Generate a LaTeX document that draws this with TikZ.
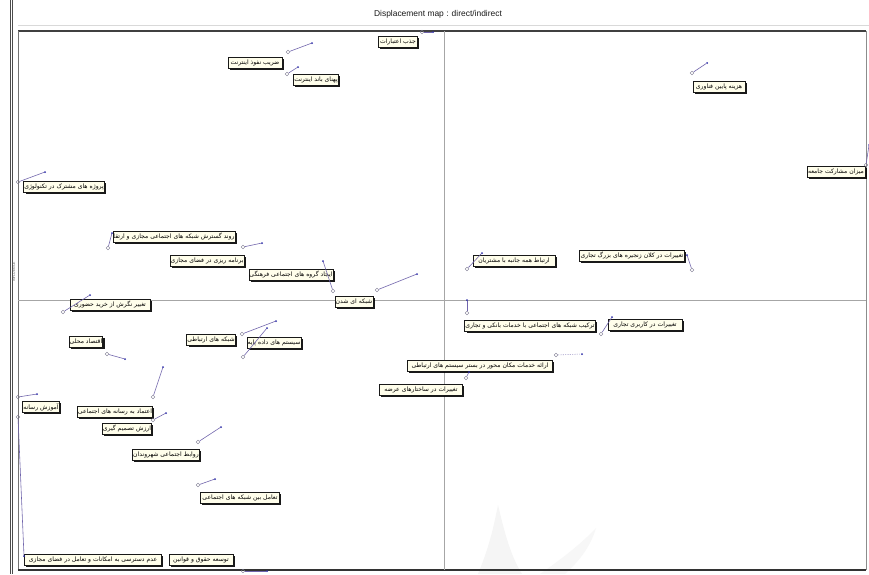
\documentclass[tikz,border=0pt]{standalone}
\usepackage{fontspec}
\setmainfont{Liberation Sans}
\newfontfamily\fa[Script=Arabic]{DejaVu Sans}
\TeXXeTstate=1
\usetikzlibrary{shadows}
\definecolor{mvline}{RGB}{112,100,172}
\definecolor{mvdot}{RGB}{40,40,165}
\definecolor{mvold}{RGB}{120,118,140}
\newcommand{\fatxt}[1]{\beginR#1\endR}

\begin{document}
\begin{tikzpicture}[x=0.03cm, y=-0.03cm,
  var/.style={draw=black!90, fill=yellow!8, line width=.6pt, inner sep=.5pt, minimum height=.33cm, font=\fa\fontsize{5.2}{5.5}\selectfont, drop shadow={shadow xshift=.055cm, shadow yshift=-.055cm, fill=black, opacity=.9}},
  old/.style={circle, draw=mvold, line width=.35pt, inner sep=0pt, minimum size=.11cm},
  new/.style={circle, fill=mvdot, inner sep=0pt, minimum size=.06cm},
  mv/.style={draw=mvline, line width=.5pt}]
\useasboundingbox (0,0) rectangle (869,574);
\fill[white] (0,0) rectangle (869,574);
\fill[black!4] (478,574) .. controls (490,545) and (494,525) .. (498,505) .. controls (504,530) and (510,555) .. (522,574) -- cycle;
\fill[black!3] (540,574) .. controls (560,560) and (580,545) .. (596,528) .. controls (590,548) and (578,562) .. (565,574) -- cycle;
\draw[black!70, line width=.5pt] (10,0) -- (10,574);
\draw[black!70, line width=.5pt] (12,0) -- (12,574);
\draw[black!15, line width=.4pt] (18,25) -- (869,25);
\draw[black!75, line width=1pt] (18,31) -- (866,31);
\draw[black!55, line width=.5pt] (18,31) -- (18,570);
\draw[black!45, line width=.5pt] (866,31) -- (866,570);
\draw[black!80, line width=.9pt] (18,570) -- (866,570);
\draw[black!35, line width=.3pt] (444,31) -- (444,570);
\draw[black!35, line width=.3pt] (18,300) -- (866,300);
\node[black!90] (title) at (438,14) {\fontsize{7.2}{8}\selectfont Displacement map : direct/indirect};
\node[rotate=90, black!60, font=\fontsize{3}{3}\selectfont] (infl) at (14,272) {INFLUENCE};

\node[var, minimum width=1.17cm] (v01) at (398,42) {\fatxt{جذب اعتبارات}};
\node[old] (p01) at (422,32) {}; \node[new] (d01) at (433,32) {}; \draw[mv] (p01) -- (d01);
\node[var, minimum width=1.62cm] (v02) at (255,63) {\fatxt{ضریب نفوذ اینترنت}};
\node[old] (p02) at (288,52) {}; \node[new] (d02) at (312,43) {}; \draw[mv] (p02) -- (d02);
\node[var, minimum width=1.35cm] (v03) at (316,80) {\fatxt{پهنای باند اینترنت}};
\node[old] (p03) at (287,74) {}; \node[new] (d03) at (298,67) {}; \draw[mv] (p03) -- (d03);
\node[var, minimum width=2.28cm] (v04) at (64,187) {\fatxt{پروژه های مشترک در تکنولوژی}};
\node[old] (p04) at (18,182) {}; \node[new] (d04) at (45,172) {}; \draw[mv] (p04) -- (d04);
\node[var, minimum width=1.56cm] (v05) at (719,87) {\fatxt{هزینه پایین فناوری}};
\node[old] (p05) at (692,73) {}; \node[new] (d05) at (707,63) {}; \draw[mv] (p05) -- (d05);
\node[var, minimum width=1.74cm] (v06) at (836,172) {\fatxt{میزان مشارکت جامعه}};
\node[old] (p06) at (866,165) {}; \node[new] (d06) at (869,145) {}; \draw[mv] (p06) -- (d06);
\node[var, minimum width=3.54cm] (v07) at (174,237) {\fatxt{روند گسترش شبکه های اجتماعی مجازی و ارتقا}};
\node[old] (p07) at (108,248) {}; \node[new] (d07) at (112,233) {}; \draw[mv] (p07) -- (d07);
\node[var, minimum width=2.10cm] (v08) at (207,261) {\fatxt{برنامه ریزی در فضای مجازی}};
\node[old] (p08) at (243,247) {}; \node[new] (d08) at (262,243) {}; \draw[mv] (p08) -- (d08);
\node[var, minimum width=2.34cm] (v09) at (291,275) {\fatxt{ایجاد گروه های اجتماعی فرهنگی}};
\node[old] (p09) at (333,291) {}; \node[new] (d09) at (323,261) {}; \draw[mv] (p09) -- (d09);
\node[var, minimum width=1.05cm] (v10) at (354,302) {\fatxt{شبکه ای شدن}};
\node[old] (p10) at (377,290) {}; \node[new] (d10) at (417,274) {}; \draw[mv] (p10) -- (d10);
\node[var, minimum width=2.40cm] (v11) at (110,305) {\fatxt{تغییر نگرش از خرید حضوری}};
\node[old] (p11) at (63,312) {}; \node[new] (d11) at (90,295) {}; \draw[mv] (p11) -- (d11);
\node[var, minimum width=0.96cm] (v12) at (86,342) {\fatxt{اقتصاد محلی}};
\node[old] (p12) at (107,354) {}; \node[new] (d12) at (125,359) {}; \draw[mv] (p12) -- (d12);
\node[var, minimum width=1.35cm] (v13) at (211,340) {\fatxt{شبکه های ارتباطی}};
\node[old] (p13) at (242,334) {}; \node[new] (d13) at (276,321) {}; \draw[mv] (p13) -- (d13);
\node[var, minimum width=1.56cm] (v14) at (274,343) {\fatxt{سیستم های داده پایه}};
\node[old] (p14) at (243,357) {}; \node[new] (d14) at (267,328) {}; \draw[mv] (p14) -- (d14);
\node[var, minimum width=2.46cm] (v15) at (514,261) {\fatxt{ارتباط همه جانبه با مشتریان}};
\node[old] (p15) at (467,269) {}; \node[new] (d15) at (482,253) {}; \draw[mv] (p15) -- (d15);
\node[var, minimum width=3.15cm] (v16) at (632,256) {\fatxt{تغییرات در کلان زنجیره های بزرگ تجاری}};
\node[old] (p16) at (692,270) {}; \node[new] (d16) at (687,255) {}; \draw[mv] (p16) -- (d16);
\node[var, minimum width=3.78cm] (v17) at (530,326) {\fatxt{ترکیب شبکه های اجتماعی با خدمات بانکی و تجاری}};
\node[old] (p17) at (467,313) {}; \node[new] (d17) at (467,300) {}; \draw[mv] (p17) -- (d17);
\node[var, minimum width=2.22cm] (v18) at (645,325) {\fatxt{تغییرات در کاربری تجاری}};
\node[old] (p18) at (601,334) {}; \node[new] (d18) at (612,317) {}; \draw[mv] (p18) -- (d18);
\node[var, minimum width=4.35cm] (v19) at (480,366) {\fatxt{ارائه خدمات مکان محور در بستر سیستم های ارتباطی}};
\node[old] (p19) at (556,355) {}; \node[new] (d19) at (582,354) {}; \draw[mv, densely dotted] (p19) -- (d19);
\node[var, minimum width=2.49cm] (v20) at (421,390) {\fatxt{تغییرات در ساختارهای عرضه}};
\node[old] (p20) at (466,378) {}; \node[new] (d20) at (469,372) {}; \draw[mv] (p20) -- (d20);
\node[var, minimum width=1.11cm] (v21) at (41,407) {\fatxt{آموزش رسانه}};
\node[old] (p21) at (18,397) {}; \node[new] (d21) at (37,394) {}; \draw[mv] (p21) -- (d21);
\node[var, minimum width=2.22cm] (v22) at (115,412) {\fatxt{اعتماد به رسانه های اجتماعی}};
\node[old] (p22) at (153,397) {}; \node[new] (d22) at (163,367) {}; \draw[mv] (p22) -- (d22);
\node[var, minimum width=1.20cm] (v23) at (127,429) {\fatxt{ارزش تصمیم گیری}};
\node[old] (p23) at (153,420) {}; \node[new] (d23) at (166,413) {}; \draw[mv] (p23) -- (d23);
\node[var, minimum width=1.74cm] (v24) at (166,455) {\fatxt{روابط اجتماعی شهروندان}};
\node[old] (p24) at (198,442) {}; \node[new] (d24) at (221,427) {}; \draw[mv] (p24) -- (d24);
\node[var, minimum width=2.37cm] (v25) at (240,498) {\fatxt{تعامل بین شبکه های اجتماعی}};
\node[old] (p25) at (198,485) {}; \node[new] (d25) at (215,479) {}; \draw[mv] (p25) -- (d25);
\node[var, minimum width=4.11cm] (v26) at (93,560) {\fatxt{عدم دسترسی به امکانات و تعامل در فضای مجازی}};
\node[old] (p26) at (18,417) {}; \node[new] (d26) at (24,556) {}; \draw[mv] (p26) -- (d26);
\node[var, minimum width=1.92cm] (v27) at (201,560) {\fatxt{توسعه حقوق و قوانین}};
\node[old] (p27) at (243,571) {}; \node[new] (d27) at (267,571) {}; \draw[mv] (p27) -- (d27);
\end{tikzpicture}
\end{document}
